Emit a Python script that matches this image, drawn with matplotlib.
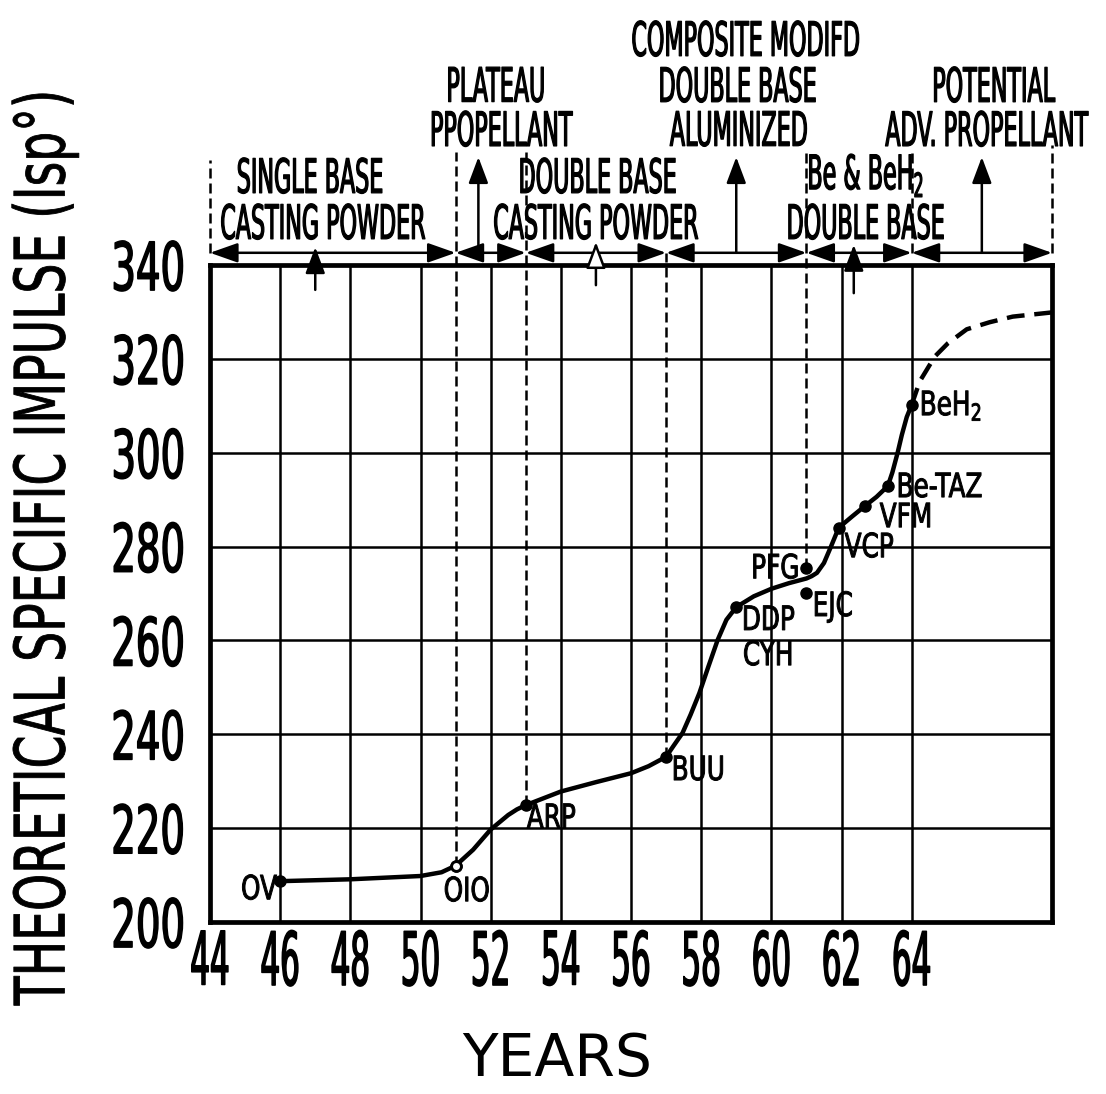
import numpy as np
import matplotlib
matplotlib.use('Agg')
import matplotlib.pyplot as plt
from matplotlib import patheffects as pe
from matplotlib.transforms import Affine2D

# main curve (year, theoretical Isp)
curve_years = [46, 48, 50, 50.6, 51, 51.5, 52, 52.5, 52.75, 53, 54, 55, 56, 56.5, 57,
               57.2, 57.47, 57.7, 57.95, 58.2, 58.47, 58.72, 59, 59.5, 60, 60.5, 61,
               61.15, 61.3, 61.5, 61.7, 61.92, 62.3, 62.66, 63.0, 63.32, 63.45, 63.6,
               63.72, 63.86, 64]
curve_isp = [208.7, 209.1, 209.8, 210.6, 212.0, 215.4, 219.7, 222.8, 224.0, 224.9,
             227.8, 229.8, 231.7, 233.2, 235.2, 237.4, 240.3, 244.2, 248.8, 254.3,
             260.1, 264.4, 267.1, 269.4, 271.0, 272.2, 273.2, 273.7, 274.4, 276.5,
             280.0, 284.0, 286.4, 288.6, 290.6, 292.9, 295.8, 300.0, 303.8, 307.6, 310.2]

# projected (dashed) part
proj_years = [64, 64.23, 64.66, 65.03, 65.57, 66.22, 66.88, 68]
proj_isp = [310.2, 315.2, 320.5, 323.3, 326.3, 327.8, 329.0, 329.9]

# named propellants
prop_names = ['OV', 'OIO', 'ARP', 'BUU', 'DDP', 'PFG', 'EJC', 'VCP', 'VFM', 'Be-TAZ', 'BeH$_2$']
prop_years = [46, 51, 53, 57, 59, 61, 61, 61.92, 62.66, 63.32, 64]
prop_isp = [208.7, 212.0, 224.9, 235.2, 267.1, 275.4, 270.1, 284.0, 288.6, 292.9, 310.2]

xticks = [44, 46, 48, 50, 52, 54, 56, 58, 60, 62, 64]
yticks = [200, 220, 240, 260, 280, 300, 320, 340]

# era boundaries in the arrow band above the plot
era_bounds = [44, 51, 53, 57, 61, 64, 68]

header_lines = ['SINGLE BASE', 'CASTING POWDER', 'PLATEAU', 'PPOPELLANT',
                'DOUBLE BASE', 'CASTING POWDER', 'COMPOSITE MODIFD', 'DOUBLE BASE',
                'ALUMINIZED', 'Be & BeH$_2$', 'DOUBLE BASE', 'POTENTIAL',
                'ADV. PROPELLANT']


class Stretch(pe.AbstractPathEffect):
    """draw text taller than the font (hand lettering look)"""
    def __init__(self, factor, axis='y', anchor='mid', lw=0.0):
        super().__init__()
        self.factor = factor
        self.axis = axis
        self.anchor = anchor
        self.lw = lw

    def draw_path(self, renderer, gc, tpath, affine, rgbFace=None):
        ext = affine.transform_path(tpath).get_extents()
        lo, hi = (ext.x0, ext.x1) if self.axis == 'x' else (ext.y0, ext.y1)
        c = {'lo': lo, 'hi': hi, 'mid': (lo + hi) / 2}[self.anchor]
        if self.axis == 'x':
            st = Affine2D().translate(-c, 0).scale(self.factor, 1).translate(c, 0)
        else:
            st = Affine2D().translate(0, -c).scale(1, self.factor).translate(0, c)
        tr = Affine2D(st.get_matrix() @ affine.get_matrix())
        gc0 = renderer.new_gc()
        gc0.copy_properties(gc)
        if self.lw:
            gc0.set_linewidth(self.lw)
            gc0.set_foreground(rgbFace)
            gc0.set_joinstyle('round')
        renderer.draw_path(gc0, tpath, tr, rgbFace)
        gc0.restore()


plt.rcParams['font.family'] = ['DejaVu Sans']

fig = plt.figure(figsize=(11.06, 10.94), dpi=100)
ax = fig.add_axes([210 / 1106, 1 - 922 / 1094, 842 / 1106, 657 / 1094])
ax.set_xlim(44, 68)
ax.set_ylim(200, 340)

ax.set_xticks(xticks)
ax.set_yticks(yticks)
ax.set_xticklabels([str(t) for t in xticks], fontsize=22.3)
ax.set_yticklabels([str(t) for t in yticks], fontsize=27.8)
ax.tick_params(axis='x', length=0, pad=6)
ax.tick_params(axis='y', length=0, pad=18)
for lab in ax.get_xticklabels():
    lab.set_path_effects([Stretch(2.38, 'y', 'hi', lw=1.1)])
for lab in ax.get_yticklabels():
    lab.set_path_effects([Stretch(1.72, 'y', 'mid', lw=1.1)])

ax.grid(True, color='black', lw=1.8)
ax.set_axisbelow(True)
for sp in ax.spines.values():
    sp.set_linewidth(3.4)

# curve
ax.plot(curve_years, curve_isp, color='black', lw=3.2, zorder=4,
        solid_capstyle='round', solid_joinstyle='round')
ax.plot(proj_years, proj_isp, color='black', lw=3.2, zorder=4, dashes=[4, 2.2],
        clip_on=False)
ax.plot(prop_years, prop_isp, 'o', color='black', ms=8, zorder=5)
ax.plot(prop_years[1], prop_isp[1], 'o', mfc='white', mec='black', mew=2, ms=7, zorder=6)

# point labels
lab_pos = {
    'OV': (45.91, 207.0, 'right'),
    'OIO': (51.32, 206.6, 'center'),
    'ARP': (53.03, 222.2, 'left'),
    'BUU': (57.16, 232.4, 'left'),
    'DDP': (59.16, 264.4, 'left'),
    'PFG': (60.8, 275.4, 'right'),
    'EJC': (61.18, 267.2, 'left'),
    'VCP': (62.09, 279.9, 'left'),
    'VFM': (63.09, 286.3, 'left'),
    'Be-TAZ': (63.57, 292.7, 'left'),
    'BeH$_2$': (64.23, 310.0, 'left'),
}
point_texts = [(n,) + lab_pos[n] for n in prop_names] + [('CYH', 59.19, 256.9, 'left')]
for name, x, y, ha in point_texts:
    t = ax.text(x, y, name, fontsize=17.8, ha=ha, va='center', zorder=6)
    t.set_path_effects([Stretch(1.35, 'y', 'mid', lw=0.7)])

# dashed era lines
dash_kw = dict(color='black', lw=1.8, dashes=[4, 2], clip_on=False, zorder=3)
band_y = 342.6
ax.plot([44, 44], [band_y, 362.4], **dash_kw)
ax.plot([51, 51], [prop_isp[1], 364.1], **dash_kw)
ax.plot([53, 53], [prop_isp[2], 364.1], **dash_kw)
ax.plot([57, 57], [prop_isp[3], band_y], **dash_kw)
ax.plot([61, 61], [prop_isp[5], 364.1], **dash_kw)
ax.plot([64, 64], [band_y, 364.1], **dash_kw)
ax.plot([68, 68], [band_y, 365.6], **dash_kw)

# arrow band
for a, b in zip(era_bounds[:-1], era_bounds[1:]):
    ax.annotate('', xy=(a, band_y), xytext=(b, band_y), annotation_clip=False,
                arrowprops=dict(arrowstyle='<|-|>,head_length=0.85,head_width=0.3',
                                lw=1.8, color='black', shrinkA=0, shrinkB=0,
                                mutation_scale=20))

# arrows up from the plot into the band
for x, tail, tip, fc in [(47, 334.7, 343.8, 'black'), (55, 335.7, 344.9, 'white'),
                         (62.35, 334.0, 344.3, 'black')]:
    ax.annotate('', xy=(x, tip), xytext=(x, tail), annotation_clip=False,
                arrowprops=dict(arrowstyle='-|>,head_length=0.8,head_width=0.3',
                                lw=1.8, fc=fc, ec='black', shrinkA=0, shrinkB=0,
                                mutation_scale=20))

# arrows up from the band to the labels
for x in [51.65, 59, 66]:
    ax.annotate('', xy=(x, 363.0), xytext=(x, band_y), annotation_clip=False,
                arrowprops=dict(arrowstyle='-|>,head_length=0.8,head_width=0.3',
                                lw=1.8, color='black', shrinkA=0, shrinkB=0,
                                mutation_scale=20))

# header lettering, one text per line
header_pos = [(46.85, 358.6), (47.22, 348.8), (52.15, 378.0), (52.3, 368.6),
              (55.05, 358.6), (55.0, 348.8), (59.27, 387.8), (59.04, 378.0),
              (59.07, 368.6), (62.69, 359.0), (62.69, 348.8), (66.34, 378.0),
              (66.14, 368.6)]
for txt, (x, y) in zip(header_lines, header_pos):
    t = ax.text(x, y, txt, fontsize=16, ha='center', va='center', clip_on=False)
    t.set_path_effects([Stretch(2.13, 'y', 'mid', lw=0.9)])

ax.set_ylabel('THEORETICAL SPECIFIC IMPULSE (Isp°)', fontsize=34, va='center')
ax.yaxis.set_label_coords(-0.195, 0.57)
ax.yaxis.label.set_path_effects([Stretch(1.47, 'x', 'mid', lw=0.6)])

ax.set_xlabel('YEARS', fontsize=42, va='center')
ax.xaxis.set_label_coords(0.412, -0.21)

fig.savefig('out.png', dpi=100)
